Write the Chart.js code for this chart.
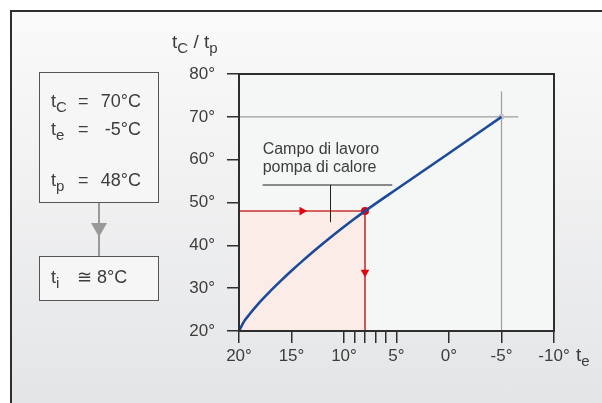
<!DOCTYPE html>
<html>
<head>
<meta charset="utf-8">
<script src="https://cdn.jsdelivr.net/npm/chart.js@4/dist/chart.umd.min.js"></script>
<style>
  html, body { margin: 0; padding: 0; background: #fff; }
  body { width: 602px; height: 403px; position: relative; overflow: hidden;
         font-family: 'Liberation Sans', Arial, sans-serif; color: #3d3d3d; }
  #frame { position: absolute; left: 10px; top: 10px; right: 0; bottom: 0;
           border-left: 2px solid #2e2e2e; border-top: 2px solid #2e2e2e;
           background: linear-gradient(#fafafa, #e4e5e7); }
  #chart-wrap { position: absolute; left: 0; top: 0; width: 602px; height: 403px; }
  .box { position: absolute; border: 1.5px solid #555; background: #f6f6f6; box-sizing: border-box; }
  .t { position: absolute; font-size: 18px; line-height: 20px; white-space: nowrap; }
  .t sub { font-size: 15px; vertical-align: -5px; line-height: 0; }
  .val { position: absolute; font-size: 18px; line-height: 20px; white-space: nowrap; text-align: right; width: 60px; }
  #conn { position: absolute; left: 98px; top: 203px; width: 1.5px; height: 54px; background: #999; }
  #tri { position: absolute; left: 91px; top: 223px; width: 0; height: 0;
         border-left: 8px solid transparent; border-right: 8px solid transparent; border-top: 14px solid #999; }
</style>
</head>
<body>
<div id="frame"></div>
<div id="chart-wrap"><canvas id="chart" width="602" height="403"></canvas></div>

<div class="box" style="left:39px; top:72px; width:120px; height:131px;"></div>
<div class="t" style="left:51px; top:91px;">t<sub>C</sub></div>
<div class="t" style="left:78px; top:91px;">=</div>
<div class="val" style="left:81px; top:91px;">70°C</div>
<div class="t" style="left:51px; top:119px;">t<sub>e</sub></div>
<div class="t" style="left:78px; top:119px;">=</div>
<div class="val" style="left:81px; top:119px;">-5°C</div>
<div class="t" style="left:51px; top:170px;">t<sub>p</sub></div>
<div class="t" style="left:78px; top:170px;">=</div>
<div class="val" style="left:81px; top:170px;">48°C</div>

<div id="conn"></div>
<div id="tri"></div>

<div class="box" style="left:39px; top:256px; width:120px; height:45px;"></div>
<div class="t" style="left:51px; top:267px;">t<sub>i</sub></div>
<div class="t" style="left:77px; top:267px;">≅</div>
<div class="t" style="left:97px; top:267px;">8°C</div>

<div class="t" style="left:172px; top:32px; font-size:19px;">t<sub>C</sub> / t<sub>p</sub></div>
<div class="t" style="left:576px; top:345px; font-size:19px;">t<sub>e</sub></div>

<script>
// outdoor temperature te (°C) and flow temperature tc/tp (°C) along the curve
const teValues = [20, 19.5, 19, 18, 17, 16, 15, 14, 13, 12, 11, 10, 9, 8, 5, 0, -5];
const tcValues = [20, 22.3, 23.9, 26.8, 29.35, 31.75, 34.05, 36.25, 38.37, 40.42, 42.41, 44.34, 46.21, 48.0, 53.1, 61.5, 70];

const xTicks = [20, 15, 10, 9, 8, 7, 6, 5, 0, -5, -10];
const xLabelTicks = [20, 15, 10, 5, 0, -5, -10];
const yTicks = [20, 30, 40, 50, 60, 70, 80];

// design point and working point
const designTe = -5;
const designTc = 70;
const workTe = 8;
const workTp = 48;

const designHLine = [{ x: 20, y: 70 }, { x: -6.6, y: 70 }];
const designVLine = [{ x: -5, y: 75.9 }, { x: -5, y: 20 }];
const arrowRight = [{ x: 14, y: 48 }];
const arrowDown = [{ x: 8, y: 33.7 }];

const noteLines = ['Campo di lavoro', 'pompa di calore'];
const noteUnderline = [17.75, 5.4, 54.1];   // te from, te to, tc
const noteLeader = [11.33, 54.1, 45.4];      // te, tc from, tc to

const fontFamily = "'Liberation Sans', Arial, sans-serif";
const inkColor = '#3d3d3d';
const redColor = '#c9302c';
const redBright = '#e3000f';
const blueColor = '#1b4a9a';
const greyColor = '#9d9d9d';

const curveData = teValues.map((te, i) => ({ x: te, y: tcValues[i] }));

const plotBox = {
  id: 'plotBox',
  beforeDraw(chart) {
    const { ctx, chartArea: a } = chart;
    ctx.save();
    ctx.fillStyle = '#f5f6f6';
    ctx.fillRect(a.left, a.top, a.right - a.left, a.bottom - a.top);
    ctx.restore();
  },
  afterDatasetsDraw(chart) {
    const { ctx, chartArea: a, scales } = chart;
    const x = scales.x, y = scales.y;
    ctx.save();
    ctx.strokeStyle = '#2e2e2e';
    ctx.lineWidth = 2;
    ctx.strokeRect(a.left, a.top, a.right - a.left, a.bottom - a.top);

    // annotation
    const ux1 = x.getPixelForValue(noteUnderline[0]);
    const ux2 = x.getPixelForValue(noteUnderline[1]);
    const uy = y.getPixelForValue(noteUnderline[2]);
    ctx.strokeStyle = '#8a8a8a';
    ctx.lineWidth = 2;
    ctx.beginPath();
    ctx.moveTo(ux1, uy);
    ctx.lineTo(ux2, uy);
    ctx.stroke();
    const lx = Math.round(x.getPixelForValue(noteLeader[0])) + 0.5;
    ctx.strokeStyle = '#222';
    ctx.lineWidth = 1;
    ctx.beginPath();
    ctx.moveTo(lx, y.getPixelForValue(noteLeader[1]));
    ctx.lineTo(lx, y.getPixelForValue(noteLeader[2]));
    ctx.stroke();

    ctx.fillStyle = inkColor;
    ctx.font = '16px ' + fontFamily;
    ctx.textBaseline = 'middle';
    ctx.textAlign = 'left';
    ctx.fillText(noteLines[0], ux1, uy - 35);
    ctx.fillText(noteLines[1], ux1, uy - 17);
    ctx.restore();
  }
};

new Chart(document.getElementById('chart').getContext('2d'), {
  type: 'scatter',
  data: {
    datasets: [
      {
        data: curveData,
        showLine: true,
        borderColor: blueColor,
        borderWidth: 2.6,
        pointRadius: 0,
        cubicInterpolationMode: 'monotone'
      },
      {
        data: [{ x: workTe, y: workTp }],
        pointRadius: 4,
        pointBackgroundColor: redBright,
        pointBorderWidth: 0
      },
      {
        data: arrowRight,
        pointStyle: 'triangle',
        rotation: 90,
        pointRadius: 5,
        pointBackgroundColor: redBright,
        pointBorderWidth: 0
      },
      {
        data: arrowDown,
        pointStyle: 'triangle',
        rotation: 180,
        pointRadius: 5,
        pointBackgroundColor: redBright,
        pointBorderWidth: 0
      },
      {
        data: [{ x: workTe, y: workTp }, { x: workTe, y: 20 }],
        showLine: true,
        borderColor: redColor,
        borderWidth: 1.6,
        pointRadius: 0
      },
      {
        data: [{ x: 20, y: workTp }, { x: workTe, y: workTp }],
        showLine: true,
        borderColor: redColor,
        borderWidth: 1.6,
        backgroundColor: '#fbece8',
        fill: { value: 20 },
        pointRadius: 0
      },
      {
        data: [{ x: designTe, y: designTc }],
        pointRadius: 3,
        pointBackgroundColor: '#c4c4c4',
        pointBorderWidth: 0
      },
      {
        data: designHLine,
        showLine: true,
        borderColor: greyColor,
        borderWidth: 1.2,
        pointRadius: 0
      },
      {
        data: designVLine,
        showLine: true,
        borderColor: greyColor,
        borderWidth: 1.2,
        pointRadius: 0
      }
    ]
  },
  options: {
    responsive: false,
    animation: false,
    events: [],
    layout: { padding: { left: 0, right: 48, top: 74, bottom: 0 } },
    plugins: { legend: { display: false }, tooltip: { enabled: false } },
    scales: {
      x: {
        type: 'linear',
        reverse: true,
        min: -10,
        max: 20,
        afterBuildTicks: scale => { scale.ticks = xTicks.map(v => ({ value: v })); },
        afterFit: scale => { scale.height = 72; },
        ticks: {
          autoSkip: false,
          maxRotation: 0,
          padding: 3,
          color: inkColor,
          font: { family: fontFamily, size: 17 },
          callback: v => xLabelTicks.includes(v) ? v + '°' : ''
        },
        grid: { drawOnChartArea: false, tickLength: 12, color: '#2e2e2e', lineWidth: 1.5 },
        border: { color: '#2e2e2e', width: 2 }
      },
      y: {
        type: 'linear',
        min: 20,
        max: 80,
        afterBuildTicks: scale => { scale.ticks = yTicks.map(v => ({ value: v })); },
        afterFit: scale => { scale.width = 239; },
        ticks: {
          padding: 12,
          color: inkColor,
          font: { family: fontFamily, size: 17 },
          callback: v => v + '°'
        },
        grid: { drawOnChartArea: false, tickLength: 12, color: '#2e2e2e', lineWidth: 1.5 },
        border: { color: '#2e2e2e', width: 2 }
      }
    }
  },
  plugins: [plotBox]
});
</script>
</body>
</html>
